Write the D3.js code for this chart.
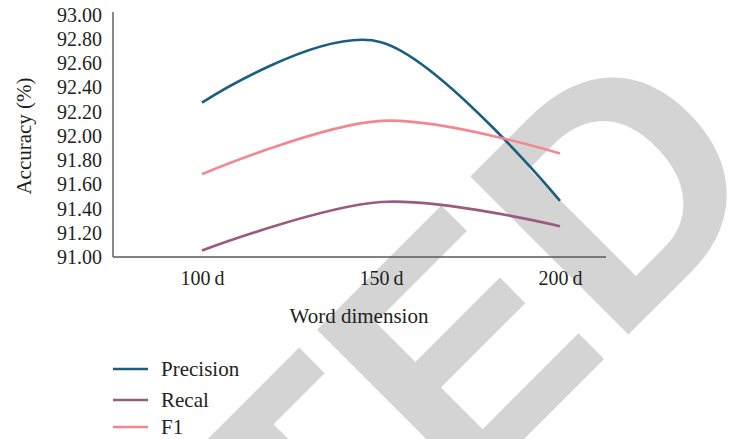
<!DOCTYPE html>
<html>
<head>
<meta charset="utf-8">
<script src="https://cdn.jsdelivr.net/npm/d3@7"></script>
<style>
  body { margin: 0; background: #fff; }
  svg text { font-family: "Liberation Serif", "Times New Roman", serif; fill: #231f20; }
</style>
</head>
<body>
<svg id="chart" width="730" height="439"></svg>
<script>
// data
const categories = ["100\u2009d", "150\u2009d", "200\u2009d"];
const precision = [92.27, 92.77, 91.46];
const recal = [91.05, 91.45, 91.25];
const f1 = [91.68, 92.12, 91.85];
const seriesNames = ["Precision", "Recal", "F1"];
const yTicks = [91.0, 91.2, 91.4, 91.6, 91.8, 92.0, 92.2, 92.4, 92.6, 92.8, 93.0];

const colors = ["#1b5e80", "#9b5a82", "#f4878e"];
const seriesValues = [precision, recal, f1];

let svg = d3.select('#chart');

// grey watermark, drawn underneath everything
svg.append('text')
    .attr('transform', 'translate(779,184) rotate(-45)')
    .attr('text-anchor', 'end')
    .style('font-family', '"Liberation Sans", Arial, sans-serif')
    .style('font-weight', 'bold')
    .style('font-size', '325px')
    .style('fill', '#d4d4d4')
    .text('RETRACTED');

let margin = {left: 113, top: 12};

let xScale = d3.scalePoint().domain(categories).range([202, 560]);
let yScale = d3.scaleLinear().domain([91, 93]).range([256.5, 14.3]);

// y axis
let yAxis = d3.axisLeft(yScale)
    .tickValues(yTicks)
    .tickSize(0)
    .tickPadding(11)
    .tickFormat(d3.format('.2f'));

let gy = svg.append('g')
    .attr('transform', `translate(${margin.left},0)`)
    .call(yAxis);
gy.select('.domain').remove();
gy.selectAll('text')
    .style('font-size', '20px')
    .attr('dy', '0.35em');

// x axis
let xAxis = d3.axisBottom(xScale).tickSize(0).tickPadding(0);
let gx = svg.append('g')
    .attr('transform', `translate(0,257)`)
    .call(xAxis);
gx.select('.domain').remove();
gx.selectAll('text')
    .style('font-size', '20px')
    .attr('y', 28)
    .attr('dy', 0);

// axis lines
svg.append('line')
    .attr('x1', margin.left).attr('x2', margin.left)
    .attr('y1', margin.top).attr('y2', 257)
    .attr('stroke', '#595959').attr('stroke-width', 1.4);
svg.append('line')
    .attr('x1', margin.left).attr('x2', 606)
    .attr('y1', 257).attr('y2', 257)
    .attr('stroke', '#595959').attr('stroke-width', 1.4);

// axis titles
svg.append('text')
    .attr('transform', 'translate(31,136) rotate(-90)')
    .attr('text-anchor', 'middle')
    .style('font-size', '21px')
    .text('Accuracy (%)');

svg.append('text')
    .attr('x', 359).attr('y', 323)
    .attr('text-anchor', 'middle')
    .style('font-size', '21px')
    .text('Word dimension');

// smoothed lines (Excel style)
let line = d3.line()
    .x((d, i) => xScale(categories[i]))
    .y(d => yScale(d))
    .curve(d3.curveCardinal.tension(0));

svg.append('g').selectAll('path')
    .data(seriesValues)
    .enter().append('path')
    .attr('d', d => line(d))
    .attr('fill', 'none')
    .attr('stroke', (d, i) => colors[i])
    .attr('stroke-width', 2.6);

// legend
let legendY = [369, 400, 427];
let legend = svg.append('g').selectAll('g')
    .data(seriesNames)
    .enter().append('g')
    .attr('transform', (d, i) => `translate(113,${legendY[i]})`);
legend.append('line')
    .attr('x1', 0).attr('x2', 35)
    .attr('stroke', (d, i) => colors[i])
    .attr('stroke-width', 2.6);
legend.append('text')
    .attr('x', 48).attr('y', 6.5)
    .style('font-size', '21px')
    .text(d => d);
</script>
</body>
</html>
